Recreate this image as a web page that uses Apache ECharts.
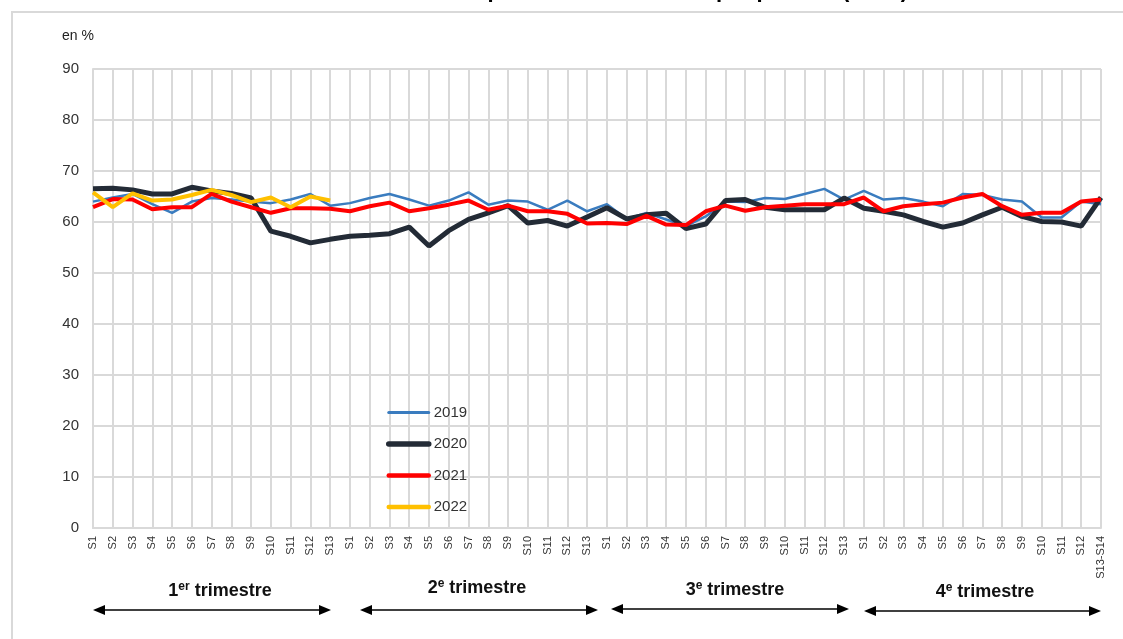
<!DOCTYPE html>
<html>
<head>
<meta charset="utf-8">
<script src="https://cdn.jsdelivr.net/npm/echarts@6/dist/echarts.min.js"></script>
<style>
  html, body { margin: 0; padding: 0; background: #fff; }
  #chart { width: 1123px; height: 639px; }
</style>
</head>
<body>
<div id="chart"></div>
<script>
  // semaines : 4 trimestres de 13 semaines
  var weeks = [
    'S1', 'S2', 'S3', 'S4', 'S5', 'S6', 'S7', 'S8', 'S9', 'S10', 'S11', 'S12', 'S13',
    'S1', 'S2', 'S3', 'S4', 'S5', 'S6', 'S7', 'S8', 'S9', 'S10', 'S11', 'S12', 'S13',
    'S1', 'S2', 'S3', 'S4', 'S5', 'S6', 'S7', 'S8', 'S9', 'S10', 'S11', 'S12', 'S13',
    'S1', 'S2', 'S3', 'S4', 'S5', 'S6', 'S7', 'S8', 'S9', 'S10', 'S11', 'S12', 'S13-S14'
  ];
  var years = ['2019', '2020', '2021', '2022'];
  var quarters = ['1er trimestre', '2e trimestre', '3e trimestre', '4e trimestre'];

  var v2019 = [
    64.0, 64.8, 65.5, 63.5, 61.8, 64.0, 64.7, 64.4, 64.0, 63.7, 64.4, 65.5, 63.2,
    63.7, 64.7, 65.5, 64.4, 63.2, 64.2, 65.8, 63.4, 64.2, 64.0, 62.4, 64.2, 62.1,
    63.5, 60.6, 61.8, 60.5, 59.2, 61.1, 64.0, 63.9, 64.7, 64.5, 65.5, 66.5, 64.4,
    66.1, 64.4, 64.7, 64.0, 63.1, 65.5, 65.3, 64.4, 64.0, 60.9, 60.9, 64.0, 63.5
  ];
  var v2020 = [
    66.5, 66.6, 66.3, 65.5, 65.5, 66.8, 66.1, 65.6, 64.7, 58.2, 57.2, 55.9, 56.6,
    57.2, 57.4, 57.7, 59.0, 55.3, 58.3, 60.5, 61.8, 63.2, 59.8, 60.3, 59.2, 61.0,
    62.8, 60.6, 61.4, 61.7, 58.7, 59.6, 64.2, 64.4, 62.9, 62.4, 62.4, 62.4, 64.7,
    62.7, 62.1, 61.4, 60.1, 59.0, 59.8, 61.4, 62.9, 61.1, 60.1, 60.0, 59.2, 64.8
  ];
  var v2021 = [
    62.9, 64.5, 64.4, 62.5, 62.9, 62.9, 65.5, 64.0, 62.9, 61.8, 62.7, 62.7, 62.6,
    62.1, 63.1, 63.8, 62.1, 62.7, 63.4, 64.2, 62.4, 63.2, 62.1, 62.1, 61.6, 59.7,
    59.8, 59.6, 61.2, 59.5, 59.4, 62.1, 63.2, 62.2, 62.9, 63.2, 63.5, 63.5, 63.5,
    64.8, 62.1, 63.1, 63.5, 63.8, 64.8, 65.5, 63.1, 61.4, 61.8, 61.8, 64.0, 64.4
  ];
  var v2022 = [
    65.8, 62.9, 65.6, 64.2, 64.4, 65.3, 66.3, 65.3, 63.9, 64.8, 62.9, 65.0, 64.2
  ];

  var colors = ['#3a7cbf', '#232b36', '#ff0000', '#ffc000'];
  var widths = [2.5, 5, 4, 4];

  var chart = echarts.init(document.getElementById('chart'));

  function arrow(x1, x2, y) {
    return [
      {type: 'line', shape: {x1: x1 + 8, y1: y, x2: x2 - 8, y2: y}, style: {stroke: '#000', lineWidth: 1.5}},
      {type: 'polygon', shape: {points: [[x1, y], [x1 + 12, y - 5], [x1 + 12, y + 5]]}, style: {fill: '#000'}},
      {type: 'polygon', shape: {points: [[x2, y], [x2 - 12, y - 5], [x2 - 12, y + 5]]}, style: {fill: '#000'}}
    ];
  }

  function quarterLabel(text, x, y) {
    var parts = text.split(' ');
    var num = parts[0].charAt(0);
    var sup = parts[0].slice(1);
    return {
      type: 'text', x: x, y: y,
      style: {
        text: '{n|' + num + '}{s|' + sup + '}{n| ' + parts[1] + '}',
        align: 'center', verticalAlign: 'middle',
        rich: {
          n: {fontSize: 18, fontWeight: 'bold', fontFamily: 'Liberation Sans', fill: '#111'},
          s: {fontSize: 12, fontWeight: 'bold', fontFamily: 'Liberation Sans', fill: '#111', verticalAlign: 'top', padding: [0, 0, 8, 0]}
        }
      }
    };
  }

  var graphics = [
    {type: 'rect', shape: {x: 12, y: 12, width: 1140, height: 660}, style: {fill: 'none', stroke: '#d9d9d9', lineWidth: 2}, silent: true},
    // titre coupé en haut de l'image
    {type: 'text', x: 908, y: 2, style: {text: 'Taux d\'occupation hebdomadaire par période (en %)', align: 'right', verticalAlign: 'bottom', fontSize: 22, fontWeight: 'bold', fontFamily: 'Liberation Sans', fill: '#000'}},
    {type: 'text', x: 62, y: 36, style: {text: 'en %', verticalAlign: 'middle', fontSize: 14, fontFamily: 'Liberation Sans', fill: '#222'}},
    quarterLabel(quarters[0], 220, 591),
    quarterLabel(quarters[1], 477, 588),
    quarterLabel(quarters[2], 735, 590),
    quarterLabel(quarters[3], 985, 592)
  ]
    .concat(arrow(93, 331, 610))
    .concat(arrow(360, 598, 610))
    .concat(arrow(611, 849, 609))
    .concat(arrow(864, 1101, 611));

  var legendData = years.map(function (y, i) {
    return {name: y, itemStyle: {opacity: 0}, lineStyle: {color: colors[i], width: widths[i] + 0.5, cap: 'round'}};
  });

  var option = {
    animation: false,
    backgroundColor: '#fff',
    grid: {left: 93, right: 22, top: 69, bottom: 111, containLabel: false},
    legend: {
      orient: 'vertical',
      left: 381,
      top: 400,
      itemWidth: 40,
      itemHeight: 14,
      itemGap: 16.5,
      textStyle: {fontSize: 15, fontFamily: 'Liberation Sans', color: '#333'},
      data: legendData
    },
    xAxis: {
      type: 'category',
      boundaryGap: false,
      data: weeks,
      axisLine: {lineStyle: {color: '#d9d9d9', width: 2}},
      axisTick: {show: false},
      splitLine: {show: true, lineStyle: {color: '#d9d9d9', width: 2}},
      axisLabel: {interval: 0, rotate: 90, fontSize: 11, fontFamily: 'Liberation Sans', color: '#333', margin: 8}
    },
    yAxis: {
      type: 'value',
      min: 0,
      max: 90,
      interval: 10,
      axisLine: {show: true, lineStyle: {color: '#d9d9d9', width: 2}},
      axisTick: {show: false},
      splitLine: {lineStyle: {color: '#d9d9d9', width: 2}},
      axisLabel: {fontSize: 15, fontFamily: 'Liberation Sans', color: '#333', margin: 14}
    },
    series: [
      {name: years[0], type: 'line', data: v2019, symbol: 'none', z: 2,
        lineStyle: {color: colors[0], width: widths[0]}, itemStyle: {color: colors[0]}},
      {name: years[1], type: 'line', data: v2020, symbol: 'none', z: 3,
        lineStyle: {color: colors[1], width: widths[1]}, itemStyle: {color: colors[1]}},
      {name: years[2], type: 'line', data: v2021, symbol: 'none', z: 4,
        lineStyle: {color: colors[2], width: widths[2]}, itemStyle: {color: colors[2]}},
      {name: years[3], type: 'line', data: v2022, symbol: 'none', z: 5,
        lineStyle: {color: colors[3], width: widths[3]}, itemStyle: {color: colors[3]}}
    ],
    graphic: graphics
  };

  chart.setOption(option);
</script>
</body>
</html>
